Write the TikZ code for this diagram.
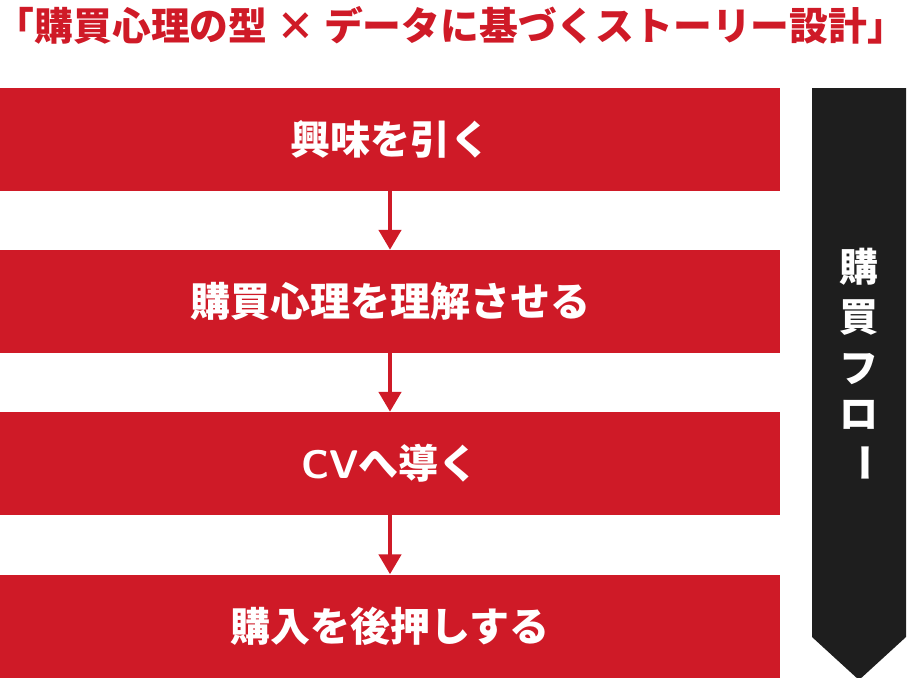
\documentclass[tikz,border=0pt]{standalone}
\usepackage{fontspec}
\usetikzlibrary{arrows.meta}
\setmainfont{Liberation Sans}
\newfontfamily\jp{Noto Sans CJK JP}
\definecolor{brandred}{RGB}{207,26,39}
\definecolor{darkgray}{RGB}{30,30,30}
\begin{document}
\begin{tikzpicture}[x=1pt,y=-1pt,
  stepbox/.style={rectangle, fill=brandred, minimum width=780pt, minimum height=103pt,
    inner sep=0pt, text=white, font=\jp\bfseries\fontsize{40}{46}\selectfont},
  flowarrow/.style={draw=brandred, line width=4.5pt,
    -{Triangle[width=22pt,length=20pt]}, shorten <=-1pt},
  flowchar/.style={text=white, font=\jp\bfseries\fontsize{39}{46}\selectfont, inner sep=0pt}
]
\useasboundingbox (0,0) rectangle (922,678);
% title
\node[text=brandred, font=\jp\bfseries\fontsize{38.8}{42}\selectfont, inner sep=0pt]
  (title) at (451,25) {「購買心理の型 × データに基づくストーリー設計」};
% boxes
\node[stepbox] (b1) at (390,139.5) {興味を引く};
\node[stepbox] (b2) at (390,301.5) {購買心理を理解させる};
\node[stepbox] (b3) at (390,463.5) {{\sffamily\bfseries CV}へ導く};
\node[stepbox] (b4) at (390,626) {購入を後押しする};
% arrows
\draw[flowarrow] (b1.south) -- (b2.north);
\draw[flowarrow] (b2.south) -- (b3.north);
\draw[flowarrow] (b3.south) -- (b4.north);
% side flow arrow
\fill[darkgray] (812,88) -- (906,88) -- (906,637) -- (859,680) -- (812,637) -- cycle;
\node[flowchar] (f1) at (859,266.5) {購};
\node[flowchar] (f2) at (859,318) {買};
\node[flowchar] (f3) at (859,369) {フ};
\node[flowchar] (f4) at (859,415) {ロ};
\node[flowchar] (f5) at (860,462.5) {\rotatebox{-90}{ー}};
\end{tikzpicture}
\end{document}
